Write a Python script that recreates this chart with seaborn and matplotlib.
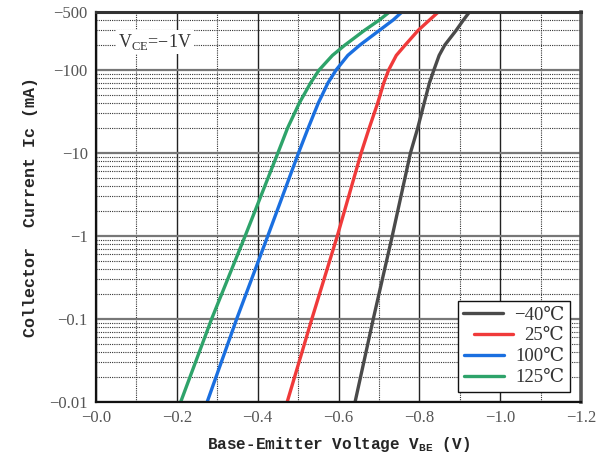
import numpy as np
import pandas as pd
import matplotlib
matplotlib.use("Agg")
import matplotlib.pyplot as plt
from matplotlib.ticker import FixedLocator, NullFormatter
import seaborn as sns

# ---- data ----
temps = ["−40℃", "25℃", "100℃", "125℃"]
colors = ["#4a4a4a", "#f03a3a", "#1a6fe0", "#2ea36a"]
current_mA = [0.01, 0.1, 1, 10, 20, 40, 70, 100, 150, 200, 300, 400, 500]
vbe_m40 = [0.641, 0.686, 0.733, 0.778, 0.796, 0.812, 0.825, 0.836, 0.849, 0.863, 0.891, 0.909, 0.924]
vbe_25 = [0.473, 0.534, 0.597, 0.656, 0.676, 0.697, 0.712, 0.724, 0.743, 0.765, 0.797, 0.825, 0.847]
vbe_100 = [0.275, 0.348, 0.425, 0.501, 0.525, 0.550, 0.574, 0.594, 0.623, 0.653, 0.701, 0.735, 0.757]
vbe_125 = [0.2095, 0.286, 0.369, 0.450, 0.474, 0.503, 0.531, 0.552, 0.585, 0.616, 0.664, 0.701, 0.726]

x_ticks = [0.0, 0.2, 0.4, 0.6, 0.8, 1.0, 1.2]
x_labels = ["−0.0", "−0.2", "−0.4", "−0.6", "−0.8", "−1.0", "−1.2"]
y_ticks = [0.01, 0.1, 1, 10, 100, 500]
y_labels = ["−0.01", "−0.1", "−1", "−10", "−100", "−500"]

series = [vbe_m40, vbe_25, vbe_100, vbe_125]
df = pd.concat(
    [pd.DataFrame({"V": v, "I": current_mA, "T": t}) for v, t in zip(series, temps)],
    ignore_index=True,
)

sns.set_style("white")
plt.rcParams["font.family"] = ["Liberation Serif", "DejaVu Serif", "Noto Sans CJK SC"]
plt.rcParams["mathtext.fontset"] = "custom"
plt.rcParams["mathtext.rm"] = "Liberation Serif"
plt.rcParams["mathtext.bf"] = "Liberation Mono:bold"

fig = plt.figure(figsize=(5.98, 4.59), dpi=100)
ax = fig.add_axes([96 / 598, 57 / 459, 485 / 598, 390 / 459])

sns.lineplot(data=df, x="V", y="I", hue="T", hue_order=temps, palette=colors,
             sort=False, linewidth=2.4, ax=ax, legend=False)
for ln in ax.get_lines():
    ln.set_solid_joinstyle("round")
    ln.set_solid_capstyle("butt")

ax.set_yscale("log")
ax.set_xlim(0, 1.2)
ax.set_ylim(0.01, 500)

# grid
ax.xaxis.set_major_locator(FixedLocator(x_ticks))
ax.xaxis.set_minor_locator(FixedLocator(np.arange(0.1, 1.2, 0.2)))
minor_y = [m * 10.0 ** e for e in range(-2, 3) for m in range(2, 10) if m * 10.0 ** e < 500]
ax.yaxis.set_minor_locator(FixedLocator(minor_y))
ax.yaxis.set_minor_formatter(NullFormatter())
ax.set_xticks(x_ticks)
ax.set_xticklabels(x_labels)
ax.set_yticks(y_ticks)
ax.set_yticklabels(y_labels)

ax.grid(False)
ax.xaxis.grid(True, which="major", color="#222222", linewidth=1.0, linestyle="-")
ax.yaxis.grid(True, which="major", color="#777777", linewidth=1.6, linestyle="-")
ax.grid(True, which="minor", color="#333333", linewidth=0.8, linestyle=(0, (1, 1)))
ax.set_axisbelow(True)

ax.tick_params(axis="both", which="both", length=0, pad=6, labelsize=12, labelcolor="#555555")

for side, col, lw in [("left", "#111111", 1.6), ("bottom", "#111111", 1.6),
                      ("top", "#333333", 2.2), ("right", "#555555", 2.6)]:
    ax.spines[side].set_visible(True)
    ax.spines[side].set_color(col)
    ax.spines[side].set_linewidth(lw)

# labels
ax.set_ylabel("Collector  Current Ic (mA)", fontfamily="Liberation Mono",
              fontweight="bold", fontsize=12, labelpad=8)
ax.set_xlabel(r"Base-Emitter Voltage V$_{\mathbf{BE}}$ (V)", fontfamily="Liberation Mono",
              fontweight="bold", fontsize=11.5, labelpad=6)

ax.text(0.045, 0.923, r"V$_{\mathrm{CE}}$=−1V", transform=ax.transAxes, fontsize=13,
        ha="left", va="center", color="#333333",
        bbox=dict(facecolor="white", edgecolor="none", pad=1.5))

# legend
handles = [plt.Line2D([], [], color=c, linewidth=2.4) for c in colors]
leg = ax.legend(handles, temps, loc="lower right", bbox_to_anchor=(0.977, 0.026),
                borderaxespad=0, fancybox=False, framealpha=1, edgecolor="#111111",
                fontsize=13.5, handlelength=2.1, labelspacing=0.2, handletextpad=0.6,
                borderpad=0.3)
leg.get_frame().set_linewidth(1.0)
for t in leg.get_texts():
    t.set_color("#333333")
for col in leg._legend_handle_box.get_children():
    col.align = "right"

fig.savefig("out.png", dpi=100)
